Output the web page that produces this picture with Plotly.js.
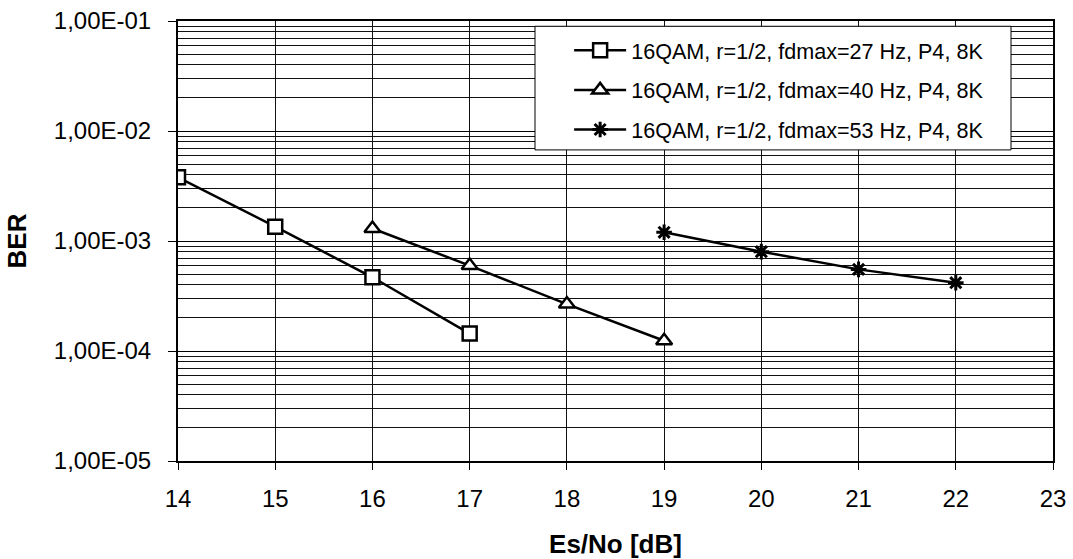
<!DOCTYPE html>
<html>
<head>
<meta charset="utf-8">
<script src="https://cdn.plot.ly/plotly-3.0.1.min.js"></script>
<style>
  html, body { margin: 0; padding: 0; background: #fff; }
  #chart { width: 1073px; height: 559px; }
</style>
</head>
<body>
<div id="chart"></div>
<script>
// Data
const esNo27 = [14, 15, 16, 17];
const ber27  = [3.79e-3, 1.35e-3, 4.68e-4, 1.44e-4];

const esNo40 = [16, 17, 18, 19];
const ber40  = [1.30e-3, 5.98e-4, 2.67e-4, 1.24e-4];

const esNo53 = [19, 20, 21, 22];
const ber53  = [1.20e-3, 8.0e-4, 5.52e-4, 4.18e-4];

const seriesNames = [
  '16QAM, r=1/2, fdmax=27 Hz, P4, 8K',
  '16QAM, r=1/2, fdmax=40 Hz, P4, 8K',
  '16QAM, r=1/2, fdmax=53 Hz, P4, 8K'
];

const yTickVals  = [1e-5, 1e-4, 1e-3, 1e-2, 1e-1];
const yTickText  = ['1,00E-05', '1,00E-04', '1,00E-03', '1,00E-02', '1,00E-01'];
const xTickVals  = [14, 15, 16, 17, 18, 19, 20, 21, 22, 23];

// minor grid positions 2..9 of each decade
const yMinor = [];
for (let e = -5; e < -1; e++) {
  for (let m = 2; m <= 9; m++) yMinor.push(m * Math.pow(10, e));
}

const FONT = 'Liberation Sans, Arial, sans-serif';

const lineStyle = { color: '#000', width: 2.5 };

const traces = [
  {
    x: esNo27, y: ber27, name: seriesNames[0], type: 'scatter', mode: 'lines+markers',
    legendgroup: 'a',
    line: lineStyle,
    marker: { symbol: 'square', size: 14, color: '#fff', line: { color: '#000', width: 2.5 } }
  },
  {
    x: esNo40, y: ber40, name: seriesNames[1], type: 'scatter', mode: 'lines+markers',
    legendgroup: 'b',
    line: lineStyle,
    marker: { symbol: 'triangle-up', size: 14, color: '#fff', line: { color: '#000', width: 2.5 } }
  },
  {
    x: esNo53, y: ber53, name: seriesNames[2], type: 'scatter', mode: 'lines+markers',
    legendgroup: 'c',
    line: lineStyle,
    marker: { symbol: 'asterisk-open', size: 13, color: '#000', line: { color: '#000', width: 3 } }
  }
];

const layout = {
  width: 1073,
  height: 559,
  paper_bgcolor: '#fff',
  plot_bgcolor: '#fff',
  margin: { l: 178, r: 20, t: 21, b: 98 },
  font: { family: FONT, color: '#000' },
  showlegend: true,
  legend: {
    x: 0.447, xanchor: 'left',
    y: 0.98, yanchor: 'top',
    bgcolor: 'rgba(0,0,0,0)',
    borderwidth: 0,
    font: { family: FONT, size: 21.6, color: '#000' },
    tracegroupgap: 8.5,
    itemwidth: 52
  },
  shapes: [
    {
      type: 'rect', xref: 'paper', yref: 'paper', layer: 'above',
      x0: 0.408, x1: 0.952, y0: 0.707, y1: 0.988,
      fillcolor: '#fff', line: { color: '#000', width: 1 }
    }
  ],
  xaxis: {
    range: [14, 23],
    tickmode: 'array',
    tickvals: xTickVals,
    ticks: 'outside', ticklen: 7, tickwidth: 1, tickcolor: '#000',
    tickfont: { family: FONT, size: 24, color: '#000' },
    ticklabelstandoff: 8,
    showgrid: true, gridcolor: '#111', gridwidth: 1,
    showline: true, linecolor: '#000', linewidth: 2, mirror: true,
    zeroline: false,
    title: { text: '<b>Es/No [dB]</b>', font: { family: FONT, size: 26, color: '#000' }, standoff: 24 }
  },
  yaxis: {
    type: 'log',
    range: [-5, -1],
    tickmode: 'array',
    tickvals: yTickVals,
    ticktext: yTickText,
    ticks: 'outside', ticklen: 8, tickwidth: 1, tickcolor: '#000',
    tickfont: { family: FONT, size: 24, color: '#000' },
    ticklabelstandoff: 12,
    showgrid: true, gridcolor: '#000', gridwidth: 1,
    minor: { tickmode: 'array', tickvals: yMinor, showgrid: true, gridcolor: '#111', gridwidth: 1, ticks: '' },
    showline: true, linecolor: '#000', linewidth: 2, mirror: true,
    zeroline: false,
    title: { text: '<b>BER</b>', font: { family: FONT, size: 26, color: '#000' }, standoff: 20 }
  }
};

Plotly.newPlot('chart', traces, layout, { displayModeBar: false, staticPlot: true });
</script>
</body>
</html>
